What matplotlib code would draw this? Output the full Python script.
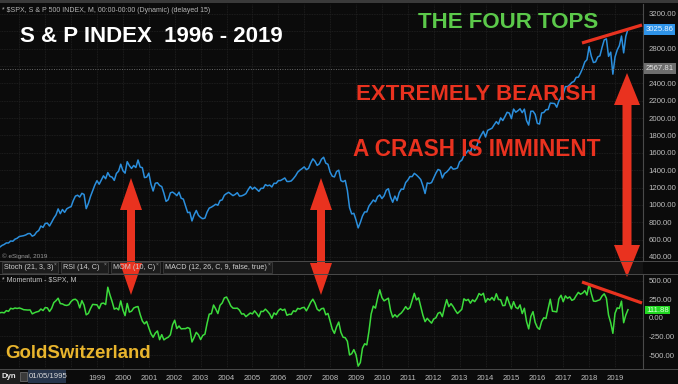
import numpy as np
import matplotlib
matplotlib.use("Agg")
import matplotlib.pyplot as plt
from matplotlib.patches import Polygon, Rectangle

# monthly S&P 500 closes, Jan 1994 .. Jul 2019 (last bar = live value on chart)
start_year = 1994
spx_close = [
    481.61, 467.14, 445.77, 450.91, 456.50, 444.27, 458.26, 475.49, 462.69, 472.35, 453.69, 459.27,
    470.42, 487.39, 500.71, 514.71, 533.40, 544.75, 562.06, 561.88, 584.41, 581.50, 605.37, 615.93,
    636.02, 640.43, 645.50, 654.17, 669.12, 670.63, 639.95, 651.99, 687.31, 705.27, 757.02, 740.74,
    786.16, 790.82, 757.12, 801.34, 848.28, 885.14, 954.31, 899.47, 947.28, 914.62, 955.40, 970.43,
    980.28, 1049.34, 1101.75, 1111.75, 1090.82, 1133.84, 1120.67, 957.28, 1017.01, 1098.67, 1163.63, 1229.23,
    1279.64, 1238.33, 1286.37, 1335.18, 1301.84, 1372.71, 1328.72, 1320.41, 1282.71, 1362.93, 1388.91, 1469.25,
    1394.46, 1366.42, 1498.58, 1452.43, 1420.60, 1454.60, 1430.83, 1517.68, 1436.51, 1429.40, 1314.95, 1320.28,
    1366.01, 1239.94, 1160.33, 1249.46, 1255.82, 1224.42, 1211.23, 1133.58, 1040.94, 1059.78, 1139.45, 1148.08,
    1130.20, 1106.73, 1147.39, 1076.92, 1067.14, 989.82, 911.62, 916.07, 815.28, 885.76, 936.31, 879.82,
    855.70, 841.15, 848.18, 916.92, 963.59, 974.50, 990.31, 1008.01, 995.97, 1050.71, 1058.20, 1111.92,
    1131.13, 1144.94, 1126.21, 1107.30, 1120.68, 1140.84, 1101.72, 1104.24, 1114.58, 1130.20, 1173.82, 1211.92,
    1181.27, 1203.60, 1180.59, 1156.85, 1191.50, 1191.33, 1234.18, 1220.33, 1228.81, 1207.01, 1249.48, 1248.29,
    1280.08, 1280.66, 1294.83, 1310.61, 1270.09, 1270.20, 1276.66, 1303.82, 1335.85, 1377.94, 1400.63, 1418.30,
    1438.24, 1406.82, 1420.86, 1482.37, 1530.62, 1503.35, 1455.27, 1473.99, 1526.75, 1549.38, 1481.14, 1468.36,
    1378.55, 1330.63, 1322.70, 1385.59, 1400.38, 1280.00, 1267.38, 1282.83, 1166.36, 968.75, 896.24, 903.25,
    825.88, 735.09, 797.87, 872.81, 919.14, 919.32, 987.48, 1020.62, 1057.08, 1036.19, 1095.63, 1115.10,
    1073.87, 1104.49, 1169.43, 1186.69, 1089.41, 1030.71, 1101.60, 1049.33, 1141.20, 1183.26, 1180.55, 1257.64,
    1286.12, 1327.22, 1325.83, 1363.61, 1345.20, 1320.64, 1292.28, 1218.89, 1131.42, 1253.30, 1246.96, 1257.60,
    1312.41, 1365.68, 1408.47, 1397.91, 1310.33, 1362.16, 1379.32, 1406.58, 1440.67, 1412.16, 1416.18, 1426.19,
    1498.11, 1514.68, 1569.19, 1597.57, 1630.74, 1606.28, 1685.73, 1632.97, 1681.55, 1756.54, 1805.81, 1848.36,
    1782.59, 1859.45, 1872.34, 1883.95, 1923.57, 1960.23, 1930.67, 2003.37, 1972.29, 2018.05, 2067.56, 2058.90,
    1994.99, 2104.50, 2067.89, 2085.51, 2107.39, 2063.11, 2103.84, 1972.18, 1920.03, 2079.36, 2080.41, 2043.94,
    1940.24, 1932.23, 2059.74, 2065.30, 2096.95, 2098.86, 2173.60, 2170.95, 2168.27, 2126.15, 2198.81, 2238.83,
    2278.87, 2363.64, 2362.72, 2384.20, 2411.80, 2423.41, 2470.30, 2471.65, 2519.36, 2575.26, 2647.58, 2673.61,
    2823.81, 2713.83, 2640.87, 2648.05, 2705.27, 2718.37, 2816.29, 2901.52, 2913.98, 2711.74, 2760.17, 2506.85,
    2704.10, 2784.49, 2834.40, 2945.83, 2752.06, 2941.76, 3025.86,
]
mom_period = 10          # MOM (10, C)
marker_level = 2567.81   # grey marker line
years = list(range(1996, 2020))
year_labels = [str(y) if y >= 1999 else "" for y in years]   # first ones sit under the date box
price_ticks = list(range(400, 3201, 200))
hidden_price = [2600, 3000]   # covered by the value boxes
mom_ticks = [-500, -250, 0, 250, 500]

W, H = 678, 384
bg = "#0b0b0b"
grid_c = "#232323"
txt_c = "#bdbdbd"
red = "#e9321f"

close = np.array(spx_close)
t = start_year + np.arange(len(close)) / 12.0
mom = close[mom_period:] - close[:-mom_period]
t_mom = t[mom_period:]

plt.rcParams["font.family"] = ["Liberation Sans", "DejaVu Sans"]

fig = plt.figure(figsize=(W / 100, H / 100), dpi=100, facecolor=bg)


def px_rect(x0, y0, x1, y1):
    return [x0 / W, 1 - y1 / H, (x1 - x0) / W, (y1 - y0) / H]


def style_axis(ax):
    ax.set_facecolor(bg)
    for s in ax.spines.values():
        s.set_visible(False)
    ax.spines["right"].set_visible(True)
    ax.spines["right"].set_color("#4a4a4a")
    ax.yaxis.tick_right()
    ax.tick_params(axis="y", colors=txt_c, labelsize=5.6, length=0, pad=4)
    ax.grid(True, color=grid_c, lw=0.6, ls=(0, (1, 1)))
    ax.set_xticks(years)
    ax.set_xlim(1995.255, 2020.08)


# price panel
ax = fig.add_axes(px_rect(0, 4, 643, 261))
style_axis(ax)
ax.plot(t, close, color="#2b8fdd", lw=1.1)
ax.axhline(marker_level, color="#6a6a6a", lw=0.7, ls=(0, (1, 1.5)))
ax.set_ylim(353.9, 3315.2)
ax.set_yticks(price_ticks)
ax.set_yticklabels(["" if v in hidden_price else "%.2f" % v for v in price_ticks])
ax.tick_params(axis="x", length=0, labelbottom=False)

# momentum panel
axm = fig.add_axes(px_rect(0, 274, 643, 368))
style_axis(axm)
axm.plot(t_mom, mom, color="#3cdc3c", lw=1.1)
axm.set_ylim(-675.5, 594)
axm.set_yticks(mom_ticks)
axm.set_yticklabels(["%.2f" % v for v in mom_ticks])
axm.set_xticklabels(year_labels)
axm.tick_params(axis="x", colors=txt_c, labelsize=5.6, length=0, pad=5)

# overlay in pixel coordinates for annotations
ov = fig.add_axes([0, 0, 1, 1], zorder=10)
ov.set_xlim(0, W)
ov.set_ylim(H, 0)
ov.axis("off")
ov.patch.set_alpha(0)

# frame lines and tab strip
ov.add_patch(Rectangle((0, 0), W, 3, color="#3a3a3a", lw=0))
ov.add_patch(Rectangle((0, 261), 643, 13, color="#141414", lw=0))
ov.plot([0, W], [261, 261], color="#4a4a4a", lw=0.7)
ov.plot([0, W], [274, 274], color="#4a4a4a", lw=0.7)
ov.plot([0, W], [368.5, 368.5], color="#4a4a4a", lw=0.7)
tabs = [("Stoch (21, 3, 3)", 2, 58), ("RSI (14, C)", 61, 108), ("MOM (10, C)", 111, 160),
        ("MACD (12, 26, C, 9, false, true)", 163, 272)]
for name, x0, x1 in tabs:
    ov.add_patch(Rectangle((x0, 262), x1 - x0, 11, facecolor="#1c1c1c", edgecolor="#3c3c3c", lw=0.6))
    ov.text(x0 + 2, 267.8, name, color="#cfcfcf", fontsize=5.2, va="center", ha="left")
    ov.text(x1 - 3, 264.5, "\u00d7", color="#9a9a9a", fontsize=3.5, va="center", ha="center")

# small header texts
ov.text(2, 10, "* $SPX, S & P 500 INDEX, M, 00:00-00:00 (Dynamic) (delayed 15)", color="#b5b5b5",
        fontsize=5.0, va="center", ha="left")
ov.text(2, 256.5, "\u00a9 eSignal, 2019", color="#9a9a9a", fontsize=4.6, va="center", ha="left")
ov.text(2, 280, "* Momentum - $SPX, M", color="#c5c5c5", fontsize=5.0, va="center", ha="left")

# bottom-left date boxes
ov.add_patch(Rectangle((0, 369), 20, 15, color="#1e1e1e", lw=0))
ov.text(1, 377, "Dyn", color="#e6e6e6", fontsize=5.6, va="center", ha="left", fontweight="bold")
ov.add_patch(Rectangle((19.5, 371.5), 7, 9, facecolor="#3a3a3a", edgecolor="#777", lw=0.5))
ov.add_patch(Rectangle((28, 370), 38, 13, color="#26344a", lw=0))
ov.text(29, 377, "01/05/1995", color="#d8d8d8", fontsize=5.6, va="center", ha="left")

# value marker boxes on the right scale
ov.text(646, 29.5, "3025.86", color="#e8f4ff", fontsize=5.6, va="center", ha="left",
        bbox=dict(boxstyle="square,pad=0.2", fc="#2e93e8", ec="none"))
ov.text(646, 68.5, "2567.81", color="#e0e0e0", fontsize=5.6, va="center", ha="left",
        bbox=dict(boxstyle="square,pad=0.2", fc="#6e6e6e", ec="none"))
ov.text(646, 310, "111.88", color="#d8ffd8", fontsize=5.6, va="center", ha="left",
        bbox=dict(boxstyle="square,pad=0.12", fc="#22d822", ec="none"))

# headline texts
ov.text(20, 36, "S & P INDEX  1996 - 2019", color="white", fontsize=16, fontweight="bold",
        va="center", ha="left")
ov.text(418, 22, "THE FOUR TOPS", color="#5bc94a", fontsize=16, fontweight="bold",
        va="center", ha="left")
ov.text(356, 95, "EXTREMELY BEARISH", color=red, fontsize=16, fontweight="bold",
        va="center", ha="left")
ov.text(353, 150, "A CRASH IS IMMINENT", color=red, fontsize=16.3, fontweight="bold",
        va="center", ha="left")
ov.text(5, 354, "GoldSwitzerland", color="#e9b52d", fontsize=13.4, fontweight="bold",
        va="center", ha="left")


# red double-headed arrows
def double_arrow(x, y_top, y_bot, head_w, head_len, shaft_w):
    hw, sw = head_w / 2, shaft_w / 2
    pts = [(x, y_top), (x + hw, y_top + head_len), (x + sw, y_top + head_len),
           (x + sw, y_bot - head_len), (x + hw, y_bot - head_len), (x, y_bot),
           (x - hw, y_bot - head_len), (x - sw, y_bot - head_len),
           (x - sw, y_top + head_len), (x - hw, y_top + head_len)]
    ov.add_patch(Polygon(pts, closed=True, color=red, lw=0))


double_arrow(131, 178, 295, 22, 32, 8)
double_arrow(321, 178, 295, 22, 32, 8)
double_arrow(627, 73, 277, 26, 32, 9)

# trend lines over the four tops
ov.plot([582, 642], [43, 25], color=red, lw=2.3, solid_capstyle="butt")
ov.plot([582, 642], [282, 303], color=red, lw=2.3, solid_capstyle="butt")

fig.savefig("out.png", dpi=100, facecolor=bg)
